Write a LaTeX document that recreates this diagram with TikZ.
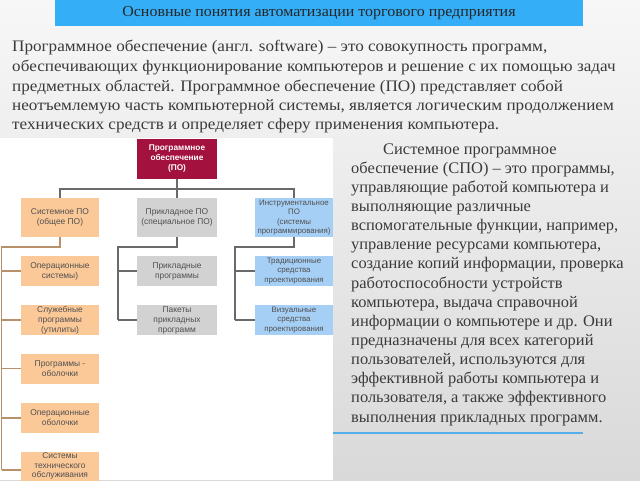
\documentclass[tikz,border=0pt]{standalone}
\usepackage{fontspec}
\setmainfont{Liberation Serif}
\setsansfont{Liberation Sans}
\newfontfamily\parafont[FakeStretch=1.07]{Liberation Serif}
\newfontfamily\parafontb[FakeStretch=1.015]{Liberation Serif}
\newfontfamily\titlefont[FakeStretch=1.05]{Liberation Serif}
\definecolor{hdr}{HTML}{35AEF8}
\definecolor{rootc}{HTML}{A3123F}
\definecolor{orc}{HTML}{FBC898}
\definecolor{grc}{HTML}{D2D2D2}
\definecolor{blc}{HTML}{A6CFF5}
\definecolor{txt}{HTML}{3A3A3A}
\definecolor{boxtxt}{HTML}{505050}
\definecolor{orl}{HTML}{B8916A}
\definecolor{gyl}{HTML}{6A6A6A}
\definecolor{bgtop}{HTML}{F7F7F7}
\definecolor{bgbot}{HTML}{D9D9D9}
\definecolor{uline}{HTML}{55AEE8}
\tikzset{
  box/.style={rectangle, inner sep=1pt, align=center, font=\sffamily\fontsize{8.4}{10}\selectfont, text=boxtxt},
  rootbox/.style={box, fill=rootc, text=white, font=\sffamily\bfseries\fontsize{8.3}{10.3}\selectfont, minimum width=80pt, minimum height=40pt},
  orbox/.style={box, fill=orc, minimum width=78pt, minimum height=30pt},
  grbox/.style={box, fill=grc, minimum width=80pt, minimum height=30pt},
  blbox/.style={box, fill=blc, minimum width=78pt, minimum height=30pt, font=\sffamily\fontsize{7.9}{9.3}\selectfont},
  orline/.style={draw=orl, line width=1.1pt},
  gyline/.style={draw=gyl, line width=1.1pt},
  para/.style={anchor=base west, inner sep=0pt, font=\parafont\fontsize{16}{20}\selectfont, text=txt},
  parb/.style={anchor=base west, inner sep=0pt, font=\parafontb\fontsize{16.2}{20}\selectfont, text=txt},
}
\begin{document}
\begin{tikzpicture}[x=1pt, y=-1pt]
\useasboundingbox (0,0) rectangle (640,480);
\clip (0,0) rectangle (640,480);
% background
\shade[top color=bgtop, bottom color=bgbot] (0,0) rectangle (640,480);
\fill[white] (0,138) rectangle (333,480);
% header
\fill[hdr] (55,0) rectangle (583,26);
\node[font=\titlefont\fontsize{15.2}{17}\selectfont, text=black!85] (title) at (319,13) {Основные понятия автоматизации торгового предприятия};
% top paragraph
\node[para] (p1) at (12,51) {Программное обеспечение (англ. software) – это совокупность программ,};
\node[para] (p2) at (12,71) {обеспечивающих функционирование компьютеров и решение с их помощью задач};
\node[para] (p3) at (12,91) {предметных областей. Программное обеспечение (ПО) представляет собой};
\node[para] (p4) at (12,110) {неотъемлемую часть компьютерной системы, является логическим продолжением};
\node[para] (p5) at (12,129) {технических средств и определяет сферу применения компьютера.};
% right paragraph
\node[parb] (r1) at (383,154) {Системное программное};
\node[parb] (r2) at (351,173.15) {обеспечение (СПО) – это программы,};
\node[parb] (r3) at (351,192.3) {управляющие работой компьютера и};
\node[parb] (r4) at (351,211.45) {выполняющие различные};
\node[parb] (r5) at (351,230.6) {вспомогательные функции, например,};
\node[parb] (r6) at (351,249.75) {управление ресурсами компьютера,};
\node[parb] (r7) at (351,268.9) {создание копий информации, проверка};
\node[parb] (r8) at (351,288.05) {работоспособности устройств};
\node[parb] (r9) at (351,307.2) {компьютера, выдача справочной};
\node[parb] (r10) at (351,326.35) {информации о компьютере и др. Они};
\node[parb] (r11) at (351,345.5) {предназначены для всех категорий};
\node[parb] (r12) at (351,364.65) {пользователей, используются для};
\node[parb] (r13) at (351,383.8) {эффективной работы компьютера и};
\node[parb] (r14) at (351,402.95) {пользователя, а также эффективного};
\node[parb] (r15) at (351,422.1) {выполнения прикладных программ.};
\draw[uline, line width=1.4pt] (333,433) -- (583,433);
% diagram nodes
\node[rootbox] (root) at (177,158.5) {Программное\\обеспечение\\(ПО)};
\node[orbox, minimum height=39pt] (sys) at (60,217.5) {Системное ПО\\(общее ПО)};
\node[grbox, minimum height=39pt] (prk) at (177,217.5) {Прикладное ПО\\(специальное ПО)};
\node[blbox, minimum height=39pt] (ins) at (294,217.5) {Инструментальное\\ПО\\(системы\\программирования)};
\node[orbox] (s1) at (60,271) {Операционные\\системы)};
\node[orbox] (s2) at (60,320) {Служебные\\программы\\(утилиты)};
\node[orbox] (s3) at (60,368.5) {Программы -\\оболочки};
\node[orbox] (s4) at (60,418) {Операционные\\оболочки};
\node[orbox, minimum height=36pt] (s5) at (60,470) {};
\node[box, inner sep=0pt, font=\sffamily\fontsize{8.4}{9.6}\selectfont] (s5t) at (60,466) {Системы\\технического\\обслуживания};
\node[grbox] (k1) at (177,271) {Прикладные\\программы};
\node[grbox] (k2) at (177,320) {Пакеты\\прикладных\\программ};
\node[blbox] (i1) at (294,271) {Традиционные\\средства\\проектирования};
\node[blbox] (i2) at (294,320) {Визуальные\\средства\\проектирования};
% connectors
\coordinate (tb) at (177,189);
\draw[gyline] (root.south) -- (prk.north);
\draw[gyline] (sys.north) |- (tb) -| (ins.north);
\coordinate (sb) at (1.5,247);
\draw[orline] (sys.south) |- (sb) -- (sb |- s5.west);
\foreach \n in {s1,s2,s3,s4,s5} \draw[orline] (sb |- \n.west) -- (\n.west);
\coordinate (kb) at (118,247);
\draw[gyline] (prk.south) |- (kb) -- (kb |- k2.west);
\foreach \n in {k1,k2} \draw[gyline] (kb |- \n.west) -- (\n.west);
\coordinate (ib) at (235,247);
\draw[gyline] (ins.south) |- (ib) -- (ib |- i2.west);
\foreach \n in {i1,i2} \draw[gyline] (ib |- \n.west) -- (\n.west);
\end{tikzpicture}
\end{document}
